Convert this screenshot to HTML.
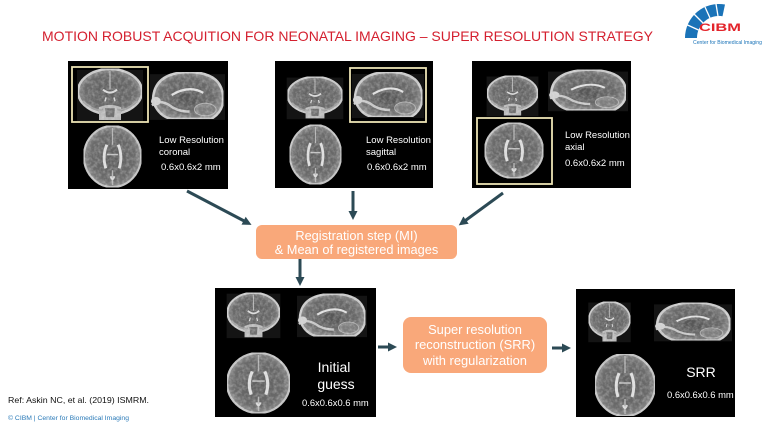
<!DOCTYPE html>
<html><head><meta charset="utf-8">
<style>
html,body{margin:0;padding:0;background:#fff;}
svg{display:block;}
text{font-family:"Liberation Sans",Arial,sans-serif;}
</style></head>
<body>
<svg width="768" height="432" viewBox="0 0 768 432" xmlns="http://www.w3.org/2000/svg">
<defs>
  <radialGradient id="bg" cx="50%" cy="50%" r="55%">
    <stop offset="0" stop-color="#5e5e5e"/>
    <stop offset="0.7" stop-color="#6a6a6a"/>
    <stop offset="1" stop-color="#959595"/>
  </radialGradient>
  <filter id="tex" x="0" y="0" width="100%" height="100%" color-interpolation-filters="sRGB">
    <feTurbulence type="fractalNoise" baseFrequency="0.3" numOctaves="2" seed="3" result="n"/>
    <feColorMatrix in="n" type="matrix" values="0 0 0 0 1  0 0 0 0 1  0 0 0 0 1  0 0 0 0.6 -0.22" result="w"/>
    <feComposite in="w" in2="SourceGraphic" operator="in" result="wt"/>
    <feMerge><feMergeNode in="SourceGraphic"/><feMergeNode in="wt"/></feMerge>
  </filter>
  <symbol id="cor" viewBox="0 0 70 55" preserveAspectRatio="none">
    <rect x="2" y="2" width="66" height="52" fill="#141414"/>
    <g filter="url(#tex)">
    <ellipse cx="35" cy="24" rx="32" ry="23" fill="url(#bg)" stroke="#c8c8c8" stroke-width="2.5"/>
    <path d="M35 3 L35 22" stroke="#b0b0b0" stroke-width="1.2"/>
    <path d="M28 22 Q35 28 42 22" stroke="#dadada" stroke-width="2" fill="none"/>
    <path d="M31 30 L30 34 M39 30 L40 34" stroke="#d4d4d4" stroke-width="1.5"/>
    <path d="M24 40 Q35 35 46 40 L46 53 L24 53 Z" fill="#b8b8b8"/>
    <path d="M30 41 L40 41 L39 50 L31 50 Z" fill="#707070"/>
    <path d="M8 34 Q20 45 28 42 M62 34 Q50 45 42 42" stroke="#a0a0a0" stroke-width="2" fill="none"/>
    </g>
  </symbol>
  <symbol id="sag" viewBox="0 0 76 50" preserveAspectRatio="none">
    <rect x="0" y="4" width="76" height="44" fill="#141414"/>
    <g filter="url(#tex)">
    <path d="M3 30 Q3 3 38 2 Q73 2 74 26 Q75 40 62 47 L22 47 Q9 45 3 30 Z" fill="url(#bg)" stroke="#c8c8c8" stroke-width="2.5"/>
    <path d="M22 24 Q40 14 54 22" stroke="#dedede" stroke-width="2.2" fill="none"/>
    <ellipse cx="38" cy="28" rx="10" ry="6" fill="#575757"/>
    <ellipse cx="56" cy="38" rx="11" ry="6" fill="#7e7e7e" stroke="#b0b0b0" stroke-width="1"/>
    <path d="M2 34 Q10 28 20 34 Q28 40 40 40" stroke="#c8c8c8" stroke-width="2.5" fill="none"/>
    <ellipse cx="6" cy="30" rx="5" ry="4" fill="#d0d0d0"/>
    </g>
  </symbol>
  <symbol id="ax" viewBox="0 0 64 64" preserveAspectRatio="none">
    <g filter="url(#tex)">
    <ellipse cx="32" cy="32" rx="30" ry="31" fill="url(#bg)" stroke="#c0c0c0" stroke-width="2.2"/>
    <path d="M32 3 L32 20 M32 46 L32 61" stroke="#b4b4b4" stroke-width="1.4"/>
    <path d="M26 20 Q21 32 25 44 M38 20 Q43 32 39 44" stroke="#dcdcdc" stroke-width="3" fill="none"/>
    <path d="M26 30 L38 30" stroke="#c0c0c0" stroke-width="1.5"/>
    <path d="M30 52 Q32 58 34 52" stroke="#d8d8d8" stroke-width="2" fill="none"/>
    </g>
  </symbol>
  <marker id="ah" markerUnits="userSpaceOnUse" markerWidth="10" markerHeight="10" refX="5" refY="5" orient="auto">
    <path d="M0 0.5 L9 5 L0 9.5 Z" fill="#2c4a55"/>
  </marker>
</defs>

<rect width="768" height="432" fill="#ffffff"/>

<!-- Title -->
<text x="42" y="41" font-size="14" fill="#d4202f" textLength="611" lengthAdjust="spacingAndGlyphs">MOTION ROBUST ACQUITION FOR NEONATAL IMAGING – SUPER RESOLUTION STRATEGY</text>

<!-- Logo -->
<g>
  <path d="M685 38 A34 34 0 0 1 725 4.5 L722.5 16.2 A22 22 0 0 0 697 38 Z" fill="#1a73b8"/>
  <g stroke="#fff" stroke-width="1.3">
    <line x1="698.5" y1="30" x2="687.5" y2="25"/>
    <line x1="703" y1="23" x2="694" y2="14"/>
    <line x1="710" y1="18" x2="705" y2="7"/>
    <line x1="718" y1="16" x2="716" y2="4"/>
  </g>
  <text x="699" y="31" font-size="11" font-weight="bold" fill="#e3242b" textLength="42" lengthAdjust="spacingAndGlyphs">CIBM</text>
  <text x="693" y="44" font-size="5" fill="#1a73b8" textLength="69" lengthAdjust="spacingAndGlyphs">Center for Biomedical Imaging</text>
</g>

<!-- Panel 1 -->
<rect x="68" y="61" width="160" height="128" fill="#000"/>
<use href="#cor" x="75" y="68" width="70" height="54"/>
<use href="#sag" x="150" y="70" width="75" height="52"/>
<use href="#ax" x="82" y="125" width="61" height="63"/>
<rect x="72" y="67" width="76" height="55" fill="none" stroke="#ece3b4" stroke-width="1.8"/>
<text x="159" y="143" font-size="9.5" fill="#fff">Low Resolution</text>
<text x="159" y="155" font-size="9.5" fill="#fff">coronal</text>
<text x="161" y="170" font-size="9.5" fill="#fff">0.6x0.6x2 mm</text>

<!-- Panel 2 -->
<rect x="275" y="61" width="158" height="127" fill="#000"/>
<use href="#cor" x="285" y="76" width="60" height="44"/>
<use href="#sag" x="352" y="70" width="72" height="50"/>
<use href="#ax" x="288" y="124" width="55" height="61"/>
<rect x="350" y="68" width="76" height="54" fill="none" stroke="#ece3b4" stroke-width="1.8"/>
<text x="366" y="143" font-size="9.5" fill="#fff">Low Resolution</text>
<text x="366" y="155" font-size="9.5" fill="#fff">sagittal</text>
<text x="367" y="170" font-size="9.5" fill="#fff">0.6x0.6x2 mm</text>

<!-- Panel 3 -->
<rect x="472" y="61" width="159" height="127" fill="#000"/>
<use href="#cor" x="485" y="75" width="55" height="42"/>
<use href="#sag" x="548" y="68" width="80" height="45"/>
<use href="#ax" x="483" y="122" width="62" height="57"/>
<rect x="477" y="118" width="75" height="66" fill="none" stroke="#ece3b4" stroke-width="1.8"/>
<text x="565" y="138" font-size="9.5" fill="#fff">Low Resolution</text>
<text x="565" y="150" font-size="9.5" fill="#fff">axial</text>
<text x="565" y="166" font-size="9.5" fill="#fff">0.6x0.6x2 mm</text>

<!-- Arrows -->
<g stroke="#2c4a55" stroke-width="3" fill="none">
  <line x1="187" y1="191" x2="248" y2="223" marker-end="url(#ah)"/>
  <line x1="353" y1="191" x2="353" y2="216" marker-end="url(#ah)"/>
  <line x1="503" y1="193" x2="462" y2="223" marker-end="url(#ah)"/>
  <line x1="300" y1="259" x2="300" y2="282" marker-end="url(#ah)"/>
  <line x1="378" y1="347" x2="393" y2="347" marker-end="url(#ah)"/>
  <line x1="552" y1="348" x2="567" y2="348" marker-end="url(#ah)"/>
</g>

<!-- Registration box -->
<rect x="256" y="225" width="201" height="34" rx="6" fill="#f9a87a"/>
<text x="356.5" y="240" font-size="12.8" fill="#fff" text-anchor="middle">Registration step (MI)</text>
<text x="356.5" y="254" font-size="12.8" fill="#fff" text-anchor="middle">&amp; Mean of registered images</text>

<!-- Initial guess panel -->
<rect x="215" y="288" width="161" height="129" fill="#000"/>
<use href="#cor" x="225" y="292" width="57" height="47"/>
<use href="#sag" x="297" y="292" width="70" height="47"/>
<use href="#ax" x="225" y="352" width="67" height="62"/>
<text x="334" y="372" font-size="14" fill="#fff" text-anchor="middle">Initial</text>
<text x="336" y="389" font-size="14" fill="#fff" text-anchor="middle">guess</text>
<text x="302" y="406" font-size="9.4" fill="#fff">0.6x0.6x0.6 mm</text>

<!-- SRR box -->
<rect x="403" y="317" width="144" height="56" rx="8" fill="#f9a87a"/>
<text x="475" y="334" font-size="12.9" fill="#fff" text-anchor="middle">Super resolution</text>
<text x="475" y="349" font-size="12.9" fill="#fff" text-anchor="middle">reconstruction (SRR)</text>
<text x="475" y="365" font-size="12.9" fill="#fff" text-anchor="middle">with regularization</text>

<!-- SRR panel -->
<rect x="576" y="289" width="159" height="128" fill="#000"/>
<use href="#cor" x="587" y="301" width="45" height="42"/>
<use href="#sag" x="654" y="301" width="78" height="42"/>
<use href="#ax" x="593" y="353" width="64" height="64"/>
<text x="701" y="377" font-size="14" fill="#fff" text-anchor="middle">SRR</text>
<text x="667" y="398" font-size="9.4" fill="#fff">0.6x0.6x0.6 mm</text>

<!-- Footer -->
<text x="8" y="403" font-size="8.5" fill="#111" textLength="141" lengthAdjust="spacingAndGlyphs">Ref: Askin NC, et al. (2019) ISMRM.</text>
<text x="8" y="420" font-size="6.3" fill="#2a7ab8" textLength="121" lengthAdjust="spacingAndGlyphs">© CIBM | Center for Biomedical Imaging</text>
</svg>
</body></html>
